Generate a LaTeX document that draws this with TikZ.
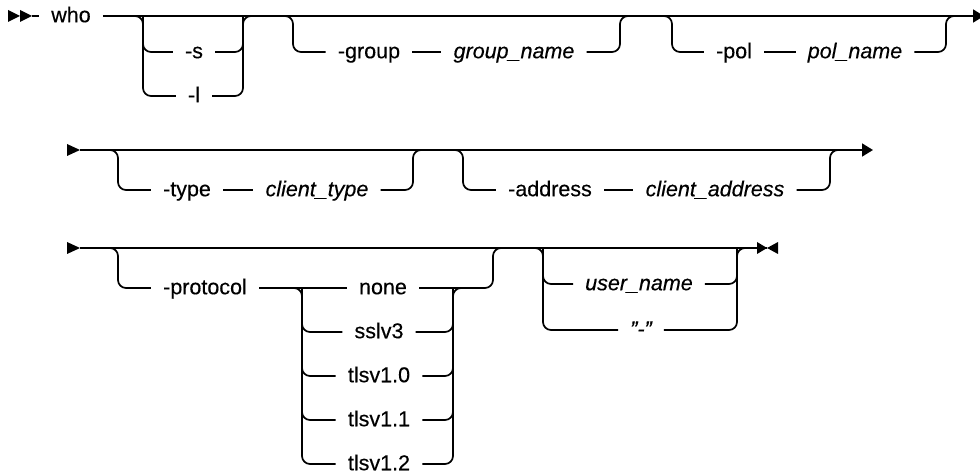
\documentclass[tikz,border=0pt]{standalone}
\usepackage{fontspec}
\setmainfont{Liberation Sans}[FakeBold=0.35]
\usetikzlibrary{arrows.meta}
\begin{document}
\begin{tikzpicture}[x=1pt,y=-1pt,
  rail/.style={line width=1.7pt, rounded corners=8pt},
  kw/.style={inner xsep=12pt, inner ysep=0pt, font=\fontsize{21.5}{25}\selectfont, text height=12.5pt, text depth=0pt},
  var/.style={kw, font=\fontsize{21.5}{25}\selectfont\itshape},
  tip/.style={-{Triangle[length=11pt,width=13pt]}}]
\useasboundingbox (0,0) rectangle (980,473);

% ---------- row 1 ----------
\coordinate (m1) at (32,16);
\fill (8,10) -- (20,16) -- (8,22) -- cycle;
\fill (20,10) -- (32,16) -- (20,22) -- cycle;
\node[kw] (who) at (71,16) {who};
\coordinate (e1) at (984,16);
\draw[line width=1.7pt] (m1) -- (who.west);
\draw[line width=1.7pt, tip] (who.east) -- (e1);

% -s / -l
\coordinate (aL) at (143,16);
\coordinate (aR) at (243,16);
\node[kw] (s) at (194,52) {-s};
\node[kw] (l) at (194,96) {-l};
\draw[rail] ([xshift=-10pt]aL) -- (aL) |- (s.west);
\draw[rail] (aL) |- (l.west);
\draw[rail] (s.east) -| (aR) -- ([xshift=10pt]aR);
\draw[rail] (l.east) -| (aR);

% -group
\coordinate (bL) at (293,16);
\coordinate (bR) at (620,16);
\node[kw] (grp) at (369,52) {-group};
\node[var] (grpn) at (514,52) {group\_name};
\draw[rail] ([xshift=-10pt]bL) -- (bL) |- (grp.west);
\draw[rail] (grp.east) -- (grpn.west);
\draw[rail] (grpn.east) -| (bR) -- ([xshift=10pt]bR);

% -pol
\coordinate (cL) at (672,16);
\coordinate (cR) at (946,16);
\node[kw] (pol) at (734,52) {-pol};
\node[var] (poln) at (855,52) {pol\_name};
\draw[rail] ([xshift=-10pt]cL) -- (cL) |- (pol.west);
\draw[rail] (pol.east) -- (poln.west);
\draw[rail] (poln.east) -| (cR) -- ([xshift=10pt]cR);

% ---------- row 2 ----------
\coordinate (s2) at (80,150);
\coordinate (e2) at (873,150);
\fill (67,144) -- (80,150) -- (67,156) -- cycle;
\draw[line width=1.7pt, tip] (s2) -- (e2);

% -type
\coordinate (dL) at (118,150);
\coordinate (dR) at (413,150);
\node[kw] (type) at (187,190) {-type};
\node[var] (ctype) at (317,190) {client\_type};
\draw[rail] ([xshift=-10pt]dL) -- (dL) |- (type.west);
\draw[rail] (type.east) -- (ctype.west);
\draw[rail] (ctype.east) -| (dR) -- ([xshift=10pt]dR);

% -address
\coordinate (fL) at (463,150);
\coordinate (fR) at (830,150);
\node[kw] (addr) at (550,190) {-address};
\node[var] (caddr) at (715,190) {client\_address};
\draw[rail] ([xshift=-10pt]fL) -- (fL) |- (addr.west);
\draw[rail] (addr.east) -- (caddr.west);
\draw[rail] (caddr.east) -| (fR) -- ([xshift=10pt]fR);

% ---------- row 3 ----------
\coordinate (s3) at (80,248);
\coordinate (e3) at (767,248);
\fill (67,242) -- (80,248) -- (67,254) -- cycle;
\draw[line width=1.7pt] (s3) -- (e3);
\fill (757,242) -- (767,248) -- (757,254) -- cycle;
\fill (778,242) -- (767,248) -- (778,254) -- cycle;

% -protocol
\coordinate (gL) at (118,248);
\coordinate (gR) at (493,248);
\coordinate (hL) at (302,288);
\coordinate (hR) at (453,288);
\node[kw] (proto) at (205,288) {-protocol};
\node[kw] (none) at (383,288) {none};
\node[kw] (ssl) at (379,332) {sslv3};
\node[kw] (t10) at (379,376) {tlsv1.0};
\node[kw] (t11) at (379,420) {tlsv1.1};
\node[kw] (t12) at (379,464) {tlsv1.2};
\draw[rail] ([xshift=-10pt]gL) -- (gL) |- (proto.west);
\draw[rail] (proto.east) -- (none.west);
\draw[rail] (none.east) -| (gR) -- ([xshift=10pt]gR);
\draw[rail] ([xshift=-10pt]hL) -- (hL) |- (ssl.west);
\draw[rail] (hL) |- (t10.west);
\draw[rail] (hL) |- (t11.west);
\draw[rail] (hL) |- (t12.west);
\draw[rail] (ssl.east) -| (hR) -- ([xshift=10pt]hR);
\draw[rail] (t10.east) -| (hR);
\draw[rail] (t11.east) -| (hR);
\draw[rail] (t12.east) -| (hR);

% user_name / "-"
\coordinate (kL) at (543,248);
\coordinate (kR) at (737,248);
\node[var] (uname) at (639,284) {user\_name};
\node[var] (dq) at (641,330) {"-"};
\draw[rail] ([xshift=-10pt]kL) -- (kL) |- (uname.west);
\draw[rail] (kL) |- (dq.west);
\draw[rail] (uname.east) -| (kR) -- ([xshift=10pt]kR);
\draw[rail] (dq.east) -| (kR);
\end{tikzpicture}
\end{document}
